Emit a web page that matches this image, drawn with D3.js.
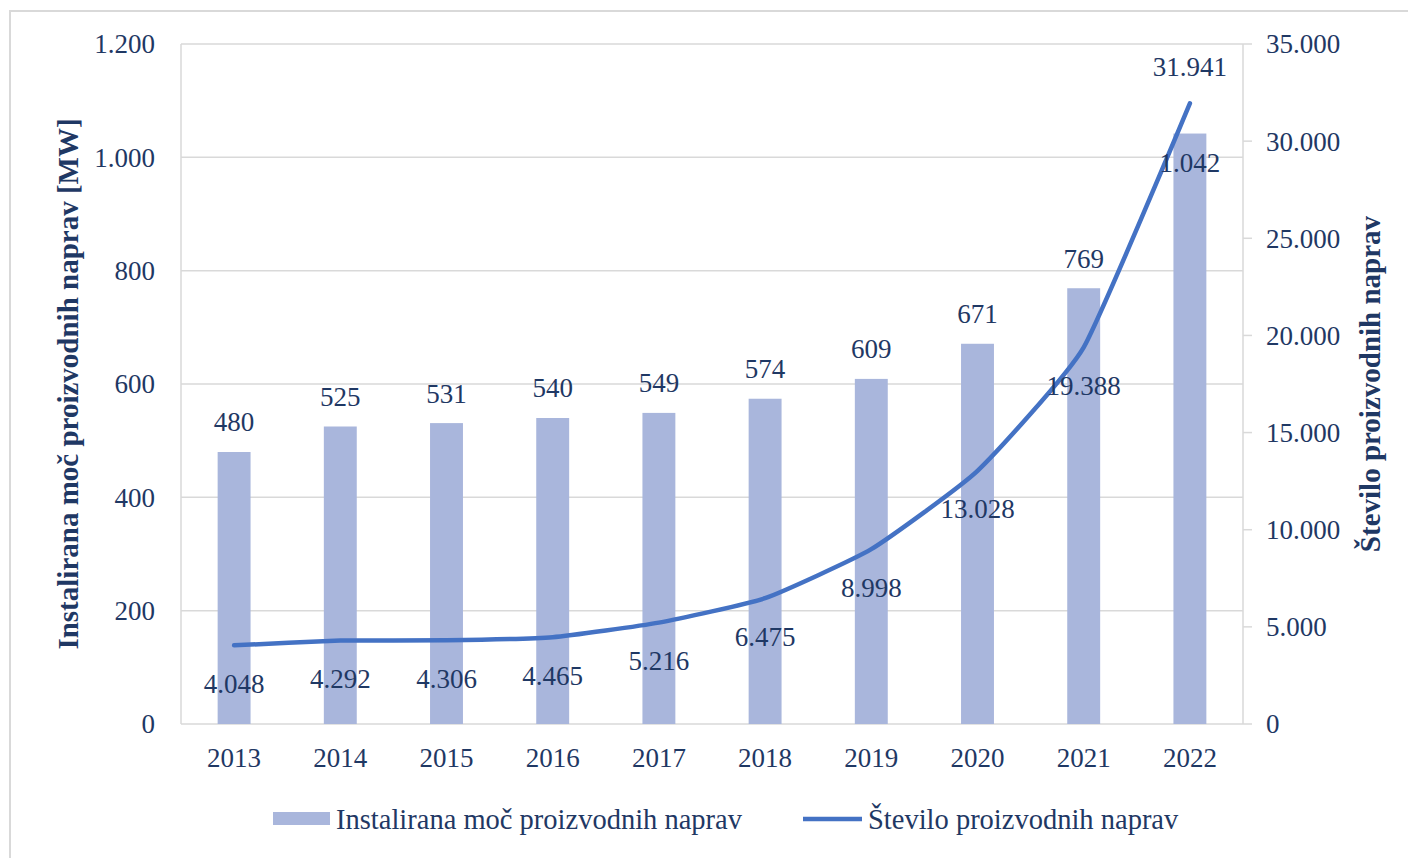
<!DOCTYPE html>
<html>
<head>
<meta charset="utf-8">
<script src="https://cdn.jsdelivr.net/npm/d3@7"></script>
<style>
  body { margin: 0; background: #fff; }
  text { font-family: "Liberation Serif", "Times New Roman", serif; fill: #1f3864; }
</style>
</head>
<body>
<svg id="chart" width="1408" height="858"></svg>
<script>
// data
var years = ["2013", "2014", "2015", "2016", "2017", "2018", "2019", "2020", "2021", "2022"];
var power = [480, 525, 531, 540, 549, 574, 609, 671, 769, 1042];          // MW
var count = [4048, 4292, 4306, 4465, 5216, 6475, 8998, 13028, 19388, 31941];
var leftTicks = [0, 200, 400, 600, 800, 1000, 1200];
var rightTicks = [0, 5000, 10000, 15000, 20000, 25000, 30000, 35000];

var fmt = d3.formatLocale({decimal: ",", thousands: ".", grouping: [3], currency: ["", ""]}).format(",");

var svg = d3.select("#chart");
var pLeft = 181, pRight = 1243, pTop = 44, pBottom = 724;
var fs = 27;

// outer border
svg.append("rect")
    .attr("x", 10).attr("y", 11)
    .attr("width", 1420).attr("height", 870)
    .attr("fill", "none").attr("stroke", "#d9d9d9").attr("stroke-width", 2);

var x = d3.scaleBand().domain(years).range([pLeft, pRight]);
var y = d3.scaleLinear().domain([0, 1200]).range([pBottom, pTop]);
var y2 = d3.scaleLinear().domain([0, 35000]).range([pBottom, pTop]);

// gridlines
svg.append("g").selectAll("line")
    .data(leftTicks)
  .enter().append("line")
    .attr("x1", pLeft).attr("x2", pRight)
    .attr("y1", function(d) { return y(d); })
    .attr("y2", function(d) { return y(d); })
    .attr("stroke", "#d9d9d9").attr("stroke-width", 1.5);

// axis lines
svg.append("line").attr("x1", pLeft).attr("x2", pLeft).attr("y1", pTop).attr("y2", pBottom)
    .attr("stroke", "#d9d9d9").attr("stroke-width", 1.5);
svg.append("line").attr("x1", pRight).attr("x2", pRight).attr("y1", pTop).attr("y2", pBottom)
    .attr("stroke", "#d9d9d9").attr("stroke-width", 1.5);

// left tick labels
svg.append("g").selectAll("text")
    .data(leftTicks)
  .enter().append("text")
    .attr("x", 155)
    .attr("y", function(d) { return y(d); })
    .attr("dy", "0.35em")
    .attr("text-anchor", "end")
    .style("font-size", fs + "px")
    .text(function(d) { return fmt(d); });

// right ticks + labels
var rt = svg.append("g").selectAll("g")
    .data(rightTicks)
  .enter().append("g")
    .attr("transform", function(d) { return "translate(0," + y2(d) + ")"; });
rt.append("line").attr("x1", pRight).attr("x2", pRight + 9)
    .attr("stroke", "#d9d9d9").attr("stroke-width", 1.5);
rt.append("text")
    .attr("x", 1266)
    .attr("dy", "0.35em")
    .style("font-size", fs + "px")
    .text(function(d) { return fmt(d); });

// x labels
svg.append("g").selectAll("text")
    .data(years)
  .enter().append("text")
    .attr("x", function(d) { return x(d) + x.bandwidth() / 2; })
    .attr("y", 758)
    .attr("dy", "0.35em")
    .attr("text-anchor", "middle")
    .style("font-size", fs + "px")
    .text(function(d) { return d; });

// bars
var barW = x.bandwidth() * 0.31;
svg.append("g").selectAll("rect")
    .data(power)
  .enter().append("rect")
    .attr("x", function(d, i) { return x(years[i]) + x.bandwidth() / 2 - barW / 2; })
    .attr("y", function(d) { return y(d); })
    .attr("width", barW)
    .attr("height", function(d) { return pBottom - y(d); })
    .attr("fill", "#a9b6dc");

// line, only lightly smoothed
var line = d3.line()
    .x(function(d, i) { return x(years[i]) + x.bandwidth() / 2; })
    .y(function(d) { return y2(d); })
    .curve(d3.curveCardinal.tension(0.55));
svg.append("path")
    .datum(count)
    .attr("d", line)
    .attr("fill", "none")
    .attr("stroke", "#4472c4")
    .attr("stroke-width", 4.5)
    .attr("stroke-linecap", "round");

// bar labels (last one sits inside the bar)
svg.append("g").selectAll("text")
    .data(power)
  .enter().append("text")
    .attr("x", function(d, i) { return x(years[i]) + x.bandwidth() / 2; })
    .attr("y", function(d, i) { return y(d) + (i == power.length - 1 ? 29 : -30); })
    .attr("dy", "0.35em")
    .attr("text-anchor", "middle")
    .style("font-size", fs + "px")
    .text(function(d) { return fmt(d); });

// line labels (last one above)
svg.append("g").selectAll("text")
    .data(count)
  .enter().append("text")
    .attr("x", function(d, i) { return x(years[i]) + x.bandwidth() / 2; })
    .attr("y", function(d, i) { return y2(d) + (i == count.length - 1 ? -37 : 38); })
    .attr("dy", "0.35em")
    .attr("text-anchor", "middle")
    .style("font-size", fs + "px")
    .text(function(d) { return fmt(d); });

// axis titles
svg.append("text")
    .attr("transform", "translate(68," + (pTop + pBottom) / 2 + ") rotate(-90)")
    .attr("dy", "0.35em")
    .attr("text-anchor", "middle")
    .style("font-size", "29px")
    .style("font-weight", "bold")
    .text("Instalirana moč proizvodnih naprav [MW]");
svg.append("text")
    .attr("transform", "translate(1370," + (pTop + pBottom) / 2 + ") rotate(-90)")
    .attr("dy", "0.35em")
    .attr("text-anchor", "middle")
    .style("font-size", "29px")
    .style("font-weight", "bold")
    .text("Število proizvodnih naprav");

// legend
var lg = svg.append("g");
lg.append("rect").attr("x", 273).attr("y", 812).attr("width", 57).attr("height", 13).attr("fill", "#a9b6dc");
lg.append("text").attr("x", 336).attr("y", 819).attr("dy", "0.35em").style("font-size", "28.5px")
    .text("Instalirana moč proizvodnih naprav");
lg.append("line").attr("x1", 803).attr("x2", 862).attr("y1", 819).attr("y2", 819)
    .attr("stroke", "#4472c4").attr("stroke-width", 4.5);
lg.append("text").attr("x", 868).attr("y", 819).attr("dy", "0.35em").style("font-size", "28.5px")
    .text("Število proizvodnih naprav");
</script>
</body>
</html>
